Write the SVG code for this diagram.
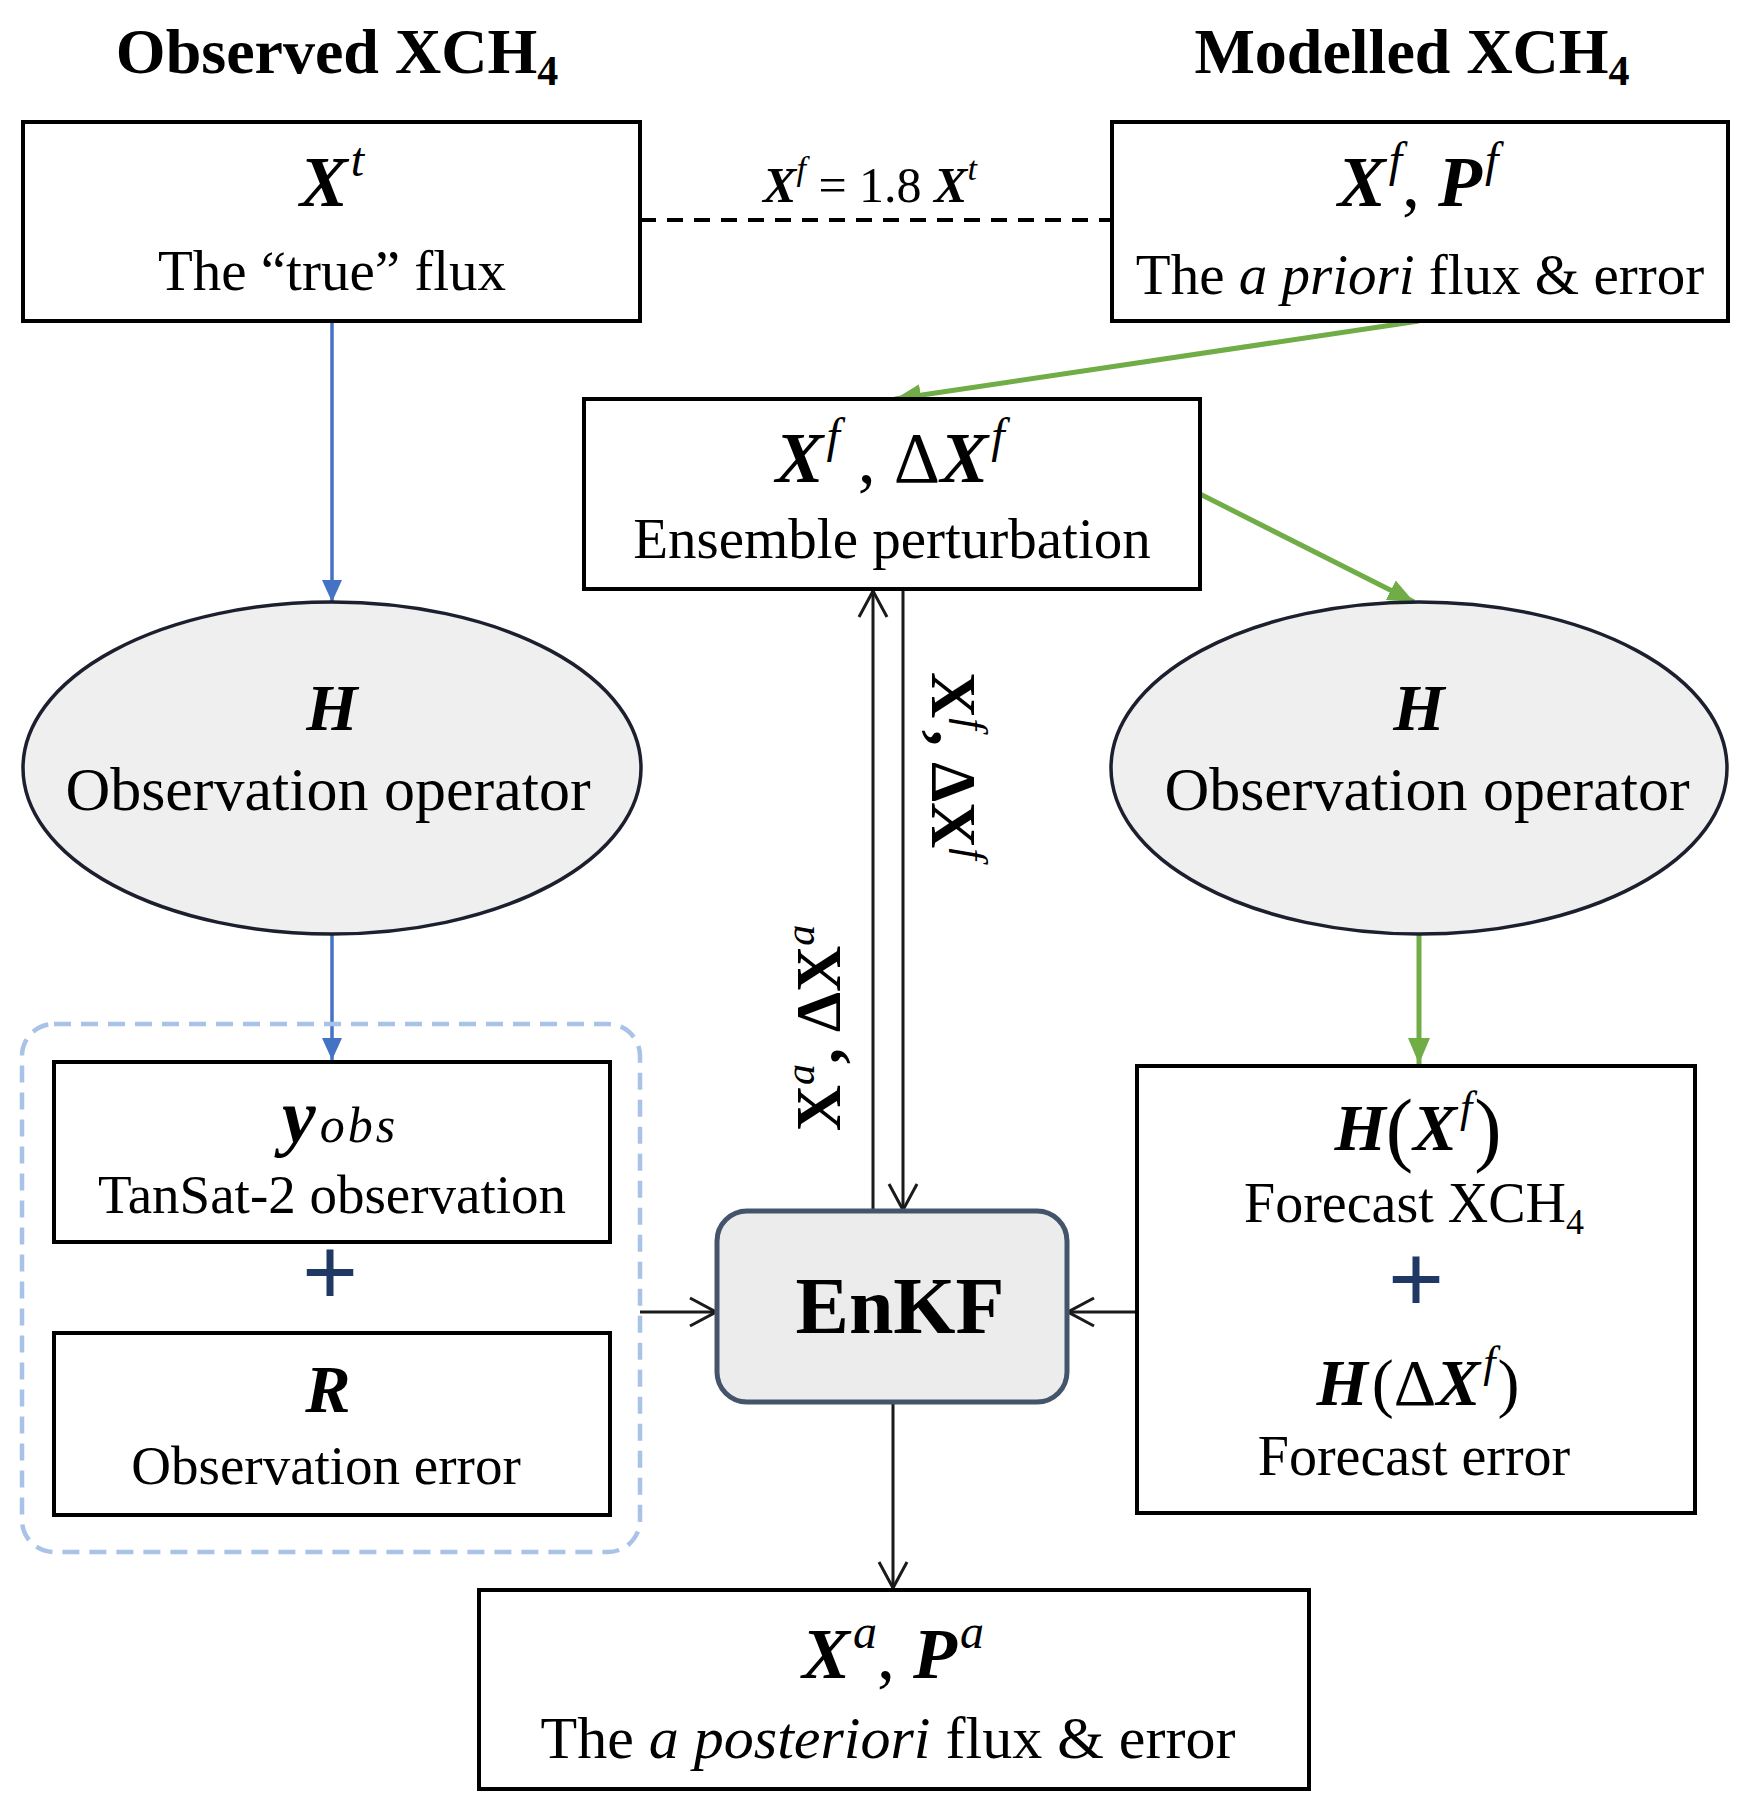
<svg xmlns="http://www.w3.org/2000/svg" width="1744" height="1817" viewBox="0 0 1744 1817">
<defs>
<style>
text{font-family:"Liberation Serif","Times New Roman",serif;fill:#000;text-anchor:middle}
.t{font-size:57px}
.ttl{font-size:64px;font-weight:bold}
.m{font-weight:bold;font-style:italic}
.sup{font-style:italic;font-weight:normal}
.box{fill:#fff;stroke:#000;stroke-width:4}
.ell{fill:#efefef;stroke:#1c1f2e;stroke-width:3.5}
.blue{stroke:#4472c4;stroke-width:3.5;fill:none}
.green{stroke:#70ad47;stroke-width:5;fill:none}
.blk{stroke:#1a1a1a;stroke-width:3;fill:none}
.plus{font-size:100px;font-weight:bold;fill:#1f3864}
</style>
<marker id="aBlk" markerUnits="userSpaceOnUse" markerWidth="32" markerHeight="32" viewBox="0 0 32 32" refX="30" refY="16" orient="auto">
<path d="M4,2 L30,16 L4,30" fill="none" stroke="#1a1a1a" stroke-width="3"/>
</marker>
<marker id="aBlue" markerUnits="userSpaceOnUse" markerWidth="24" markerHeight="24" viewBox="0 0 24 24" refX="22" refY="12" orient="auto">
<path d="M0,2 L22,12 L0,22 Z" fill="#4472c4"/>
</marker>
<marker id="aGreen" markerUnits="userSpaceOnUse" markerWidth="28" markerHeight="28" viewBox="0 0 28 28" refX="26" refY="14" orient="auto">
<path d="M0,3 L26,14 L0,25 Z" fill="#70ad47"/>
</marker>
</defs>
<rect width="1744" height="1817" fill="#fff"/>

<g id="titles">
<text class="ttl" x="337" y="73">Observed XCH<tspan font-size="42" dy="12">4</tspan></text>
<text class="ttl" x="1412" y="73">Modelled XCH<tspan font-size="42" dy="12">4</tspan></text>
</g>

<g id="connectors">
<line x1="640" y1="220" x2="1112" y2="220" stroke="#000" stroke-width="4" stroke-dasharray="16 11"/>
<text x="870" y="202" font-size="50"><tspan class="m">X</tspan><tspan class="sup" font-size="34" dy="-22">f</tspan><tspan dy="22"> = 1.8 </tspan><tspan class="m">X</tspan><tspan class="sup" font-size="34" dy="-22">t</tspan></text>
<line class="blue" x1="332" y1="322" x2="332" y2="602" marker-end="url(#aBlue)"/>
<line class="blue" x1="332" y1="934" x2="332" y2="1060" marker-end="url(#aBlue)"/>
<line class="green" x1="1419" y1="321" x2="895" y2="399" marker-end="url(#aGreen)"/>
<line class="green" x1="1200" y1="494" x2="1414" y2="602" marker-end="url(#aGreen)"/>
<line class="green" x1="1419" y1="934" x2="1419" y2="1064" marker-end="url(#aGreen)"/>
<line class="blk" x1="873" y1="1211" x2="873" y2="591" marker-end="url(#aBlk)"/>
<line class="blk" x1="903" y1="591" x2="903" y2="1210" marker-end="url(#aBlk)"/>
<line class="blk" x1="640" y1="1312" x2="716" y2="1312" marker-end="url(#aBlk)"/>
<line class="blk" x1="1137" y1="1312" x2="1068" y2="1312" marker-end="url(#aBlk)"/>
<line class="blk" x1="893" y1="1403" x2="893" y2="1588" marker-end="url(#aBlk)"/>
<text font-size="64" font-weight="bold" transform="translate(932,766) rotate(90)" x="0" y="0">X<tspan class="sup" font-size="42" dy="-26">f</tspan><tspan dy="26">, ΔX</tspan><tspan class="sup" font-size="42" dy="-26">f</tspan></text>
<text font-size="64" font-weight="bold" transform="translate(840,1028) rotate(-90)" x="0" y="0">X<tspan class="sup" font-size="42" dy="-26">a</tspan><tspan dy="26">, ΔX</tspan><tspan class="sup" font-size="42" dy="-26">a</tspan></text>
</g>

<g id="node-true">
<rect class="box" x="23" y="122" width="617" height="199"/>
<text x="332" y="206" font-size="72"><tspan class="m">X</tspan><tspan class="sup" font-size="48" dx="3" dy="-30">t</tspan></text>
<text class="t" x="332" y="290">The “true” flux</text>
</g>

<g id="node-prior">
<rect class="box" x="1112" y="122" width="616" height="199"/>
<text x="1418" y="206" font-size="72"><tspan class="m">X</tspan><tspan class="sup" font-size="48" dx="3" dy="-30">f</tspan><tspan dy="30">, </tspan><tspan class="m">P</tspan><tspan class="sup" font-size="48" dx="3" dy="-30">f</tspan></text>
<text class="t" x="1420" y="294">The <tspan font-style="italic">a priori</tspan> flux &amp; error</text>
</g>

<g id="node-ensemble">
<rect class="box" x="584" y="399" width="616" height="190"/>
<text x="890" y="482" font-size="72"><tspan class="m">X</tspan><tspan class="sup" font-size="48" dx="3" dy="-30">f</tspan><tspan dy="30"> , Δ</tspan><tspan class="m">X</tspan><tspan class="sup" font-size="48" dx="3" dy="-30">f</tspan></text>
<text class="t" x="892" y="558">Ensemble perturbation</text>
</g>

<g id="node-H-left">
<ellipse class="ell" cx="332" cy="768" rx="309" ry="166"/>
<text class="m" x="332" y="730" font-size="66">H</text>
<text x="328" y="810" font-size="62">Observation operator</text>
</g>

<g id="node-H-right">
<ellipse class="ell" cx="1419" cy="768" rx="308" ry="166"/>
<text class="m" x="1419" y="730" font-size="66">H</text>
<text x="1427" y="810" font-size="62">Observation operator</text>
</g>

<g id="group-obs">
<rect x="22" y="1024" width="618" height="528" rx="32" fill="none" stroke="#a9c2e8" stroke-width="4.5" stroke-dasharray="17 10"/>
</g>

<g id="node-yobs">
<rect class="box" x="54" y="1062" width="556" height="180"/>
<text x="340" y="1142" font-size="76"><tspan class="m">y</tspan><tspan font-style="italic" font-size="50" dx="4" letter-spacing="3">obs</tspan></text>
<text x="332" y="1213" font-size="55">TanSat-2 observation</text>
</g>

<text class="plus" x="330" y="1306">+</text>

<g id="node-R">
<rect class="box" x="54" y="1333" width="556" height="182"/>
<text class="m" x="328" y="1412" font-size="68">R</text>
<text x="326" y="1484" font-size="55">Observation error</text>
</g>

<g id="node-enkf">
<rect x="717" y="1211" width="350" height="191" rx="30" fill="#ececec" stroke="#44546a" stroke-width="5"/>
<text x="900" y="1333" font-size="80" font-weight="bold">EnKF</text>
</g>

<g id="node-forecast">
<rect class="box" x="1137" y="1066" width="558" height="447"/>
<text x="1418" y="1150" font-size="66"><tspan class="m">H</tspan><tspan font-size="82" dy="6">(</tspan><tspan class="m" dy="-6">X</tspan><tspan class="sup" font-size="44" dx="3" dy="-28">f</tspan><tspan font-size="82" dx="2" dy="34">)</tspan></text>
<text x="1414" y="1222" font-size="56">Forecast XCH<tspan font-size="36" dy="12">4</tspan></text>
<text class="plus" x="1416" y="1313">+</text>
<text x="1418" y="1405" font-size="66"><tspan class="m">H</tspan><tspan dx="4">(Δ</tspan><tspan class="m">X</tspan><tspan class="sup" font-size="44" dx="3" dy="-28">f</tspan><tspan dx="2" dy="28">)</tspan></text>
<text x="1414" y="1475" font-size="56">Forecast error</text>
</g>

<g id="node-posterior">
<rect class="box" x="479" y="1590" width="830" height="199"/>
<text x="893" y="1678" font-size="72"><tspan class="m">X</tspan><tspan class="sup" font-size="48" dx="3" dy="-30">a</tspan><tspan dy="30">, </tspan><tspan class="m">P</tspan><tspan class="sup" font-size="48" dx="3" dy="-30">a</tspan></text>
<text x="888" y="1758" font-size="60">The <tspan font-style="italic">a posteriori</tspan> flux &amp; error</text>
</g>
</svg>
